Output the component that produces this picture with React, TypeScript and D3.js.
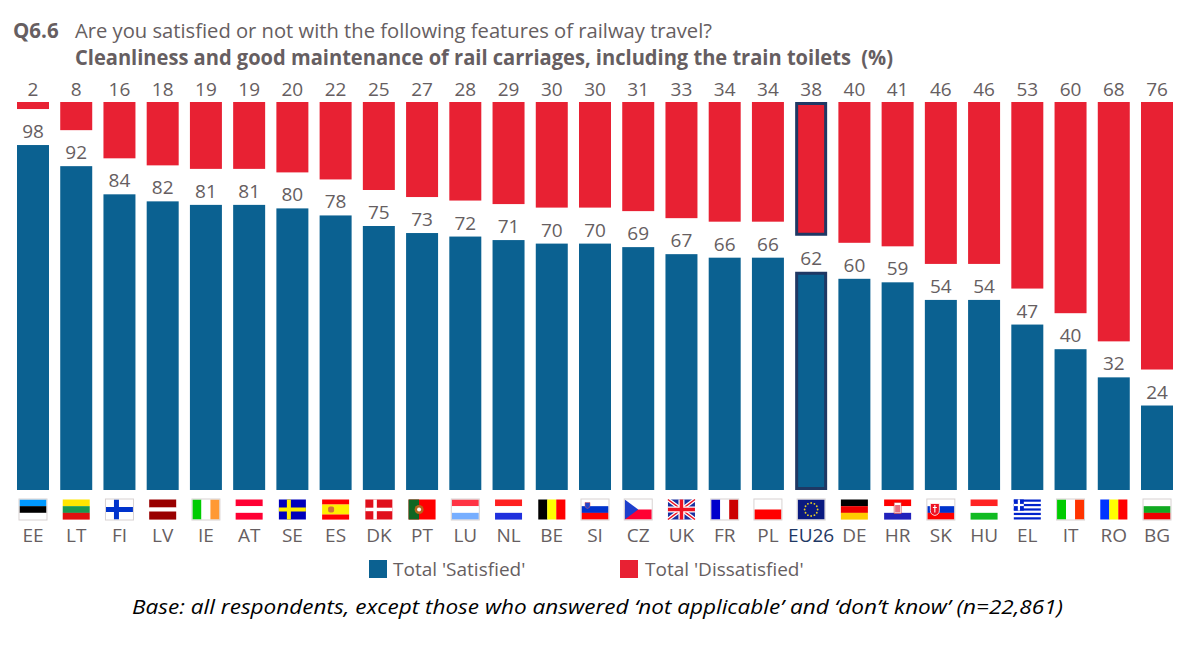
import React from 'react'
import * as d3 from 'd3'

const countries = ['EE', 'LT', 'FI', 'LV', 'IE', 'AT', 'SE', 'ES', 'DK', 'PT', 'LU', 'NL', 'BE', 'SI', 'CZ', 'UK', 'FR', 'PL', 'EU26', 'DE', 'HR', 'SK', 'HU', 'EL', 'IT', 'RO', 'BG']
const satisfied = [98, 92, 84, 82, 81, 81, 80, 78, 75, 73, 72, 71, 70, 70, 69, 67, 66, 66, 62, 60, 59, 54, 54, 47, 40, 32, 24]
const dissatisfied = [2, 8, 16, 18, 19, 19, 20, 22, 25, 27, 28, 29, 30, 30, 31, 33, 34, 34, 38, 40, 41, 46, 46, 53, 60, 68, 76]

const BLUE = '#0B6191'
const RED = '#E82133'
const TEXT = '#665E61'
const NAVY = '#1F3864'
const FONT = '"Open Sans", "Noto Sans", sans-serif'

const FW = 27
const FH = 20

// flag colours, stripes run top to bottom unless listed in verticalFlags
const flagColors: Record<string, string[]> = {
  EE: ['#0099FF', '#000000', '#FFFFFF'],
  LT: ['#FFE600', '#1A9850', '#E01010'],
  LV: ['#990000', '#FFFFFF', '#990000'],
  IE: ['#00CC00', '#FFFFFF', '#FF9933'],
  AT: ['#FF0033', '#FFFFFF', '#FF0033'],
  LU: ['#FF3344', '#FFFFFF', '#77AEFF'],
  NL: ['#FF2020', '#FFFFFF', '#2030DD'],
  BE: ['#000000', '#FFFF00', '#FF0000'],
  SI: ['#FFFFFF', '#0033CC', '#FF0000'],
  FR: ['#0000CC', '#FFFFFF', '#CC0000'],
  PL: ['#FFFFFF', '#FF0000'],
  DE: ['#000000', '#EE0000', '#FFCC00'],
  HR: ['#FF0000', '#FFFFFF', '#2222BB'],
  SK: ['#FFFFFF', '#0033CC', '#FF0000'],
  HU: ['#FF2222', '#FFFFFF', '#11BB22'],
  IT: ['#00CC00', '#FFFFFF', '#FF3300'],
  RO: ['#0033FF', '#FFFF00', '#FF0000'],
  BG: ['#FFFFFF', '#11AA22', '#EE0000'],
  ES: ['#FF0000', '#FFEE00', '#FF0000'],
}
const flagWeights: Record<string, number[]> = { ES: [1, 2, 1], LV: [2, 1, 2] }
const verticalFlags = ['IE', 'BE', 'FR', 'IT', 'RO']
const borderedFlags = ['EE', 'FI', 'IE', 'SI', 'CZ', 'FR', 'PL', 'SK', 'IT', 'BG', 'LU', 'EU26']
const euStars = d3.range(12)

function Flag({ code }: { code: string }) {
  const colors = flagColors[code]
  const vertical = verticalFlags.includes(code)
  const w = vertical && colors ? FW / colors.length : FW
  let stripes: React.ReactNode = null
  if (colors) {
    const weights = flagWeights[code] ?? colors.map(() => 1)
    const total = d3.sum(weights)
    let pos = 0
    stripes = colors.map((c, i) => {
      const h = (weights[i] / total) * FH
      const r = vertical
        ? <rect key={i} x={i * w} y={0} width={w + 0.1} height={FH} fill={c} />
        : <rect key={i} x={0} y={pos} width={FW} height={h + 0.1} fill={c} />
      pos += h
      return r
    })
  }
  return (
    <g>
      {stripes}
      {code === 'FI' && (
        <>
          <rect width={FW} height={FH} fill="#fff" />
          <rect x={8} width={5} height={FH} fill="#0033CC" />
          <rect y={7.5} width={FW} height={5} fill="#0033CC" />
        </>
      )}
      {code === 'SE' && (
        <>
          <rect width={FW} height={FH} fill="#0000BB" />
          <rect x={8} width={4} height={FH} fill="#FFEE00" />
          <rect y={8} width={FW} height={4} fill="#FFEE00" />
        </>
      )}
      {code === 'DK' && (
        <>
          <rect width={FW} height={FH} fill="#E0101C" />
          <rect x={8} width={3.5} height={FH} fill="#fff" />
          <rect y={8.2} width={FW} height={3.5} fill="#fff" />
        </>
      )}
      {code === 'ES' && <rect x={6} y={7} width={6} height={6} fill="#D0703A" rx={2} />}
      {code === 'PT' && (
        <>
          <rect width={FW} height={FH} fill="#FF0000" />
          <rect width={10.5} height={FH} fill="#116622" />
          <circle cx={10.5} cy={10} r={4.5} fill="#B5651D" />
          <circle cx={10.5} cy={10} r={2} fill="#fff" />
        </>
      )}
      {code === 'SI' && <path d="M3.5,3 h5 v3 q0,2.5 -2.5,3 q-2.5,-0.5 -2.5,-3 z" fill="#2244CC" stroke="#E05050" strokeWidth={0.5} />}
      {code === 'CZ' && (
        <>
          <rect width={FW} height={FH / 2} fill="#fff" />
          <rect y={FH / 2} width={FW} height={FH / 2} fill="#FF0033" />
          <path d={`M0,0 L13.5,${FH / 2} L0,${FH} Z`} fill="#1E3FCC" />
        </>
      )}
      {code === 'UK' && (
        <>
          <rect width={FW} height={FH} fill="#1A2FA0" />
          <path d={`M0,0 L${FW},${FH} M${FW},0 L0,${FH}`} stroke="#fff" strokeWidth={4} />
          <path d={`M0,0 L${FW},${FH} M${FW},0 L0,${FH}`} stroke="#EE1122" strokeWidth={1.5} />
          <path d={`M${FW / 2},0 V${FH} M0,${FH / 2} H${FW}`} stroke="#fff" strokeWidth={6} />
          <path d={`M${FW / 2},0 V${FH} M0,${FH / 2} H${FW}`} stroke="#EE1122" strokeWidth={3.5} />
        </>
      )}
      {code === 'EU26' && (
        <>
          <rect width={FW} height={FH} fill="#0A1A80" />
          {euStars.map(i => (
            <circle
              key={i}
              cx={FW / 2 + 6.5 * Math.cos((i * Math.PI) / 6)}
              cy={FH / 2 + 6.5 * Math.sin((i * Math.PI) / 6)}
              r={0.9}
              fill="#E8D020"
            />
          ))}
        </>
      )}
      {code === 'HR' && (
        <>
          <rect x={10} y={3} width={7} height={11} fill="#fff" stroke="#D03030" strokeWidth={0.6} />
          <rect x={11} y={5.5} width={5} height={7.5} fill="#E87080" />
        </>
      )}
      {code === 'SK' && (
        <>
          <path d="M3,4 h9 v7 q0,4 -4.5,5 q-4.5,-1 -4.5,-5 z" fill="#EE1122" stroke="#fff" strokeWidth={0.8} />
          <path d="M7.5,5.5 V13 M5.5,8 H9.5" stroke="#fff" strokeWidth={1.1} />
        </>
      )}
      {code === 'EL' && (
        <>
          <rect width={FW} height={FH} fill="#fff" />
          {d3.range(5).map(i => (
            <rect key={i} y={i * (FH / 4.5)} width={FW} height={FH / 9} fill="#0022CC" />
          ))}
          <rect width={10} height={(FH / 9) * 5} fill="#0022CC" />
          <rect x={4} width={2.2} height={(FH / 9) * 5} fill="#fff" />
          <rect y={4.4} width={10} height={2.2} fill="#fff" />
        </>
      )}
      {borderedFlags.includes(code) && (
        <rect x={-0.5} y={-0.5} width={FW + 1} height={FH + 1} fill="none" stroke="#D8D2D2" strokeWidth={1} />
      )}
    </g>
  )
}

export default function App() {
  const x = d3.scaleBand<string>().domain(countries).range([17, 1173]).paddingInner(0.26).paddingOuter(0)
  // satisfied grows up from the baseline, dissatisfied hangs down from the top
  const yBlue = d3.scaleLinear().domain([0, 100]).range([490, 138])
  const yRed = d3.scaleLinear().domain([0, 100]).range([102, 454])
  const bw = x.bandwidth()

  return (
    <svg
      width={1196}
      height={650}
      style={{ position: 'absolute', left: 0, top: 0, background: '#fff' }}
      fontFamily={FONT}
    >
      <text x={13} y={38} fontSize={20.5} fontWeight={700} fill={TEXT}>Q6.6</text>
      <text x={75} y={38} fontSize={20.5} fill={TEXT} textLength={637} lengthAdjust="spacingAndGlyphs">Are you satisfied or not with the following features of railway travel?</text>
      <text x={75} y={65} fontSize={20.5} fontWeight={700} fill={TEXT} textLength={818} lengthAdjust="spacingAndGlyphs" style={{ whiteSpace: 'pre' }}>Cleanliness and good maintenance of rail carriages, including the train toilets  (%)</text>

      {countries.map((c, i) => {
        const bx = x(c)!
        const cx = bx + bw / 2
        const isEu = c === 'EU26'
        const stroke = isEu ? { stroke: NAVY, strokeWidth: 3 } : {}
        const inset = isEu ? 1.5 : 0
        return (
          <g key={c}>
            <rect x={bx + inset} y={yRed(0) + inset} width={bw - 2 * inset} height={yRed(dissatisfied[i]) - yRed(0) - 2 * inset} fill={RED} {...stroke} />
            <rect x={bx + inset} y={yBlue(satisfied[i]) + inset} width={bw - 2 * inset} height={yBlue(0) - yBlue(satisfied[i]) - 2 * inset} fill={BLUE} {...stroke} />
            <text x={cx} y={96} textAnchor="middle" fontSize={19} fill={TEXT}>{dissatisfied[i]}</text>
            <text x={cx} y={yBlue(satisfied[i]) - 7} textAnchor="middle" fontSize={19} fill={TEXT}>{satisfied[i]}</text>
            <g transform={`translate(${cx - FW / 2},499.5)`}>
              <Flag code={c} />
            </g>
            <text x={cx} y={541.5} textAnchor="middle" fontSize={19} fill={isEu ? NAVY : TEXT}>{c}</text>
          </g>
        )
      })}

      <rect x={369} y={560} width={18} height={18} fill={BLUE} />
      <text x={393} y={576} fontSize={19} fill={TEXT}>Total 'Satisfied'</text>
      <rect x={620} y={560} width={18} height={18} fill={RED} />
      <text x={645} y={576} fontSize={19} fill={TEXT}>Total 'Dissatisfied'</text>

      <text x={132} y={614} fontSize={20.5} fontStyle="italic" fill="#000" textLength={931} lengthAdjust="spacingAndGlyphs">Base: all respondents, except those who answered ‘not applicable’ and ‘don’t know’ (n=22,861)</text>
    </svg>
  )
}
